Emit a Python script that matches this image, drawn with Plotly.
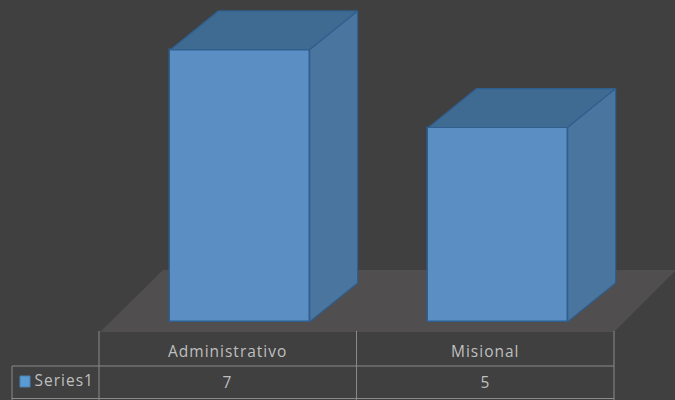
import plotly.graph_objects as go

categories = ["Administrativo", "Misional"]
series_name = "Series1"
values = [7, 5]

W, H = 675, 400
BAR_W = 0.54
DEPTH_X = 0.186
DEPTH_Y = 1.0
PX_X = 258.0
PX_Y = 38.86
X0_PX = 240.0
Y0_PX = 321.8
LABEL_SHIFT = 0.048
FRONT = "#5b8fc3"
TOP = "#3f6a92"
SIDE = "#4a759f"
EDGE = "#2f5f8f"
GRID = "#8a8a8a"
TXT = "#bfbfbf"
FONT = "Open Sans"
FONT_SIZE = 15.5

def px_x(p):
    return (p - X0_PX) / PX_X

def px_y(p):
    return (Y0_PX - p) / PX_Y

xs = list(range(len(categories)))
fig = go.Figure()

for x, v in zip(xs, values):
    l, r = x - BAR_W / 2, x + BAR_W / 2
    fig.add_trace(go.Scatter(
        x=[l, r, r + DEPTH_X, l + DEPTH_X, l], y=[v, v, v + DEPTH_Y, v + DEPTH_Y, v],
        mode="lines", fill="toself", fillcolor=TOP,
        line=dict(color=EDGE, width=1.2), hoverinfo="skip", showlegend=False))
    fig.add_trace(go.Scatter(
        x=[r, r + DEPTH_X, r + DEPTH_X, r, r], y=[0, DEPTH_Y, v + DEPTH_Y, v, 0],
        mode="lines", fill="toself", fillcolor=SIDE,
        line=dict(color=EDGE, width=1.2), hoverinfo="skip", showlegend=False))

fig.add_trace(go.Bar(
    x=xs, y=values, width=BAR_W, name=series_name,
    marker=dict(color=FRONT, line=dict(color=EDGE, width=1.5)),
    showlegend=False))

def hline(x0, x1, y):
    return dict(type="line", xref="paper", yref="paper", x0=x0 / W, x1=x1 / W,
                y0=1 - y / H, y1=1 - y / H, line=dict(color=GRID, width=1), layer="below")

def vline(x, y0, y1):
    return dict(type="line", xref="paper", yref="paper", x0=x / W, x1=x / W,
                y0=1 - y0 / H, y1=1 - y1 / H, line=dict(color=GRID, width=1), layer="below")

floor = dict(type="path", xref="paper", yref="paper", layer="below",
             path=f"M {100/W} {1-332/H} L {614/W} {1-332/H} L {675/W} {1-271/H} "
                  f"L {675/W} {1-270/H} L {163/W} {1-270/H} Z",
             fillcolor="#504e4e", line=dict(width=0))
swatch = dict(type="rect", xref="paper", yref="paper", layer="above",
              x0=20 / W, x1=30 / W, y0=1 - 387 / H, y1=1 - 376 / H,
              fillcolor="#5b9bd5", line=dict(color="#4a80b0", width=1))

shapes = [floor,
          hline(12, 614, 366), hline(12, 614, 398.5),
          vline(99, 331, 400), vline(356.5, 331, 400), vline(614, 331, 400),
          vline(12, 366, 400), swatch]

font = dict(family=FONT, size=FONT_SIZE, color=TXT)
ann = []
for x, c, v in zip(xs, categories, values):
    ann.append(dict(x=x - LABEL_SHIFT, y=px_y(351), xref="x", yref="y", text=c, showarrow=False,
                    xanchor="center", yanchor="middle", font=font))
    ann.append(dict(x=x - LABEL_SHIFT, y=px_y(382), xref="x", yref="y", text=str(v), showarrow=False,
                    xanchor="center", yanchor="middle", font=font))
ann.append(dict(x=36 / W, y=1 - 380 / H, xref="paper", yref="paper", xanchor="left", yanchor="middle",
                text=series_name, showarrow=False, font=font))

fig.update_layout(
    width=W, height=H, margin=dict(l=0, r=0, t=0, b=0), autosize=False,
    paper_bgcolor="#404040", plot_bgcolor="rgba(0,0,0,0)",
    xaxis=dict(range=[px_x(0), px_x(W)], visible=False, fixedrange=True),
    yaxis=dict(range=[px_y(H), px_y(0)], visible=False, fixedrange=True),
    shapes=shapes, annotations=ann, showlegend=False, bargap=0)

post = """
document.body.style.margin='0';
document.body.style.overflow='hidden';
document.body.style.background='#404040';
document.querySelectorAll('.annotation-text').forEach(function(t){t.style.letterSpacing='1px';});
"""
fig.write_html("out.html", config={"displayModeBar": False}, post_script=post)
